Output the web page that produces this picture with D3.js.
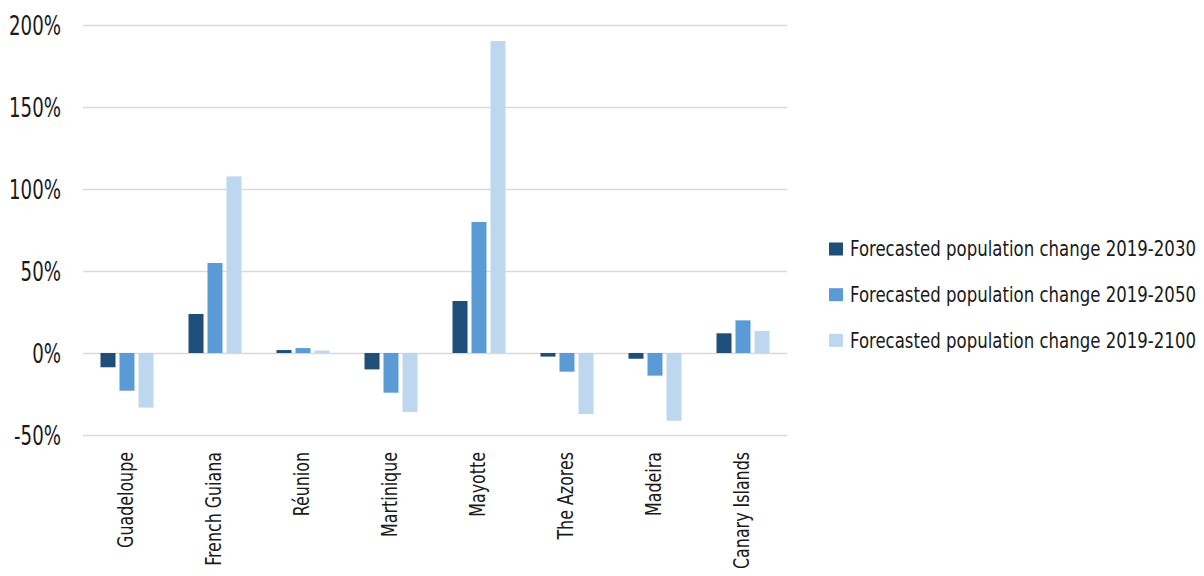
<!DOCTYPE html>
<html>
<head>
<meta charset="utf-8">
<script src="https://cdn.jsdelivr.net/npm/d3@7"></script>
<style>
  html, body { margin: 0; padding: 0; background: #fff; }
  svg { display: block; }
  text { font-family: "DejaVu Sans Condensed", "DejaVu Sans", sans-serif; fill: #1a1a1a; }
</style>
</head>
<body>
<svg id="chart" width="1204" height="576"></svg>
<script>
// Regions on the horizontal axis
const categories = ["Guadeloupe", "French Guiana", "Réunion", "Martinique", "Mayotte", "The Azores", "Madeira", "Canary Islands"];

// Series names (legend)
const seriesNames = [
  "Forecasted population change 2019-2030",
  "Forecasted population change 2019-2050",
  "Forecasted population change 2019-2100"
];

// Forecasted change in percent, one array per series
const change2030 = [-8.7, 23.8, 1.8, -10.0, 31.7, -2.2, -3.5, 12.0];
const change2050 = [-23.0, 54.9, 3.0, -24.2, 79.9, -11.4, -13.8, 19.9];
const change2100 = [-33.3, 107.7, 1.5, -36.0, 190.2, -37.2, -41.3, 13.4];

// Y axis ticks
const yTicks = [-50, 0, 50, 100, 150, 200];

const colors = ["#1F4E79", "#5B9BD5", "#BDD7EE"];
const seriesValues = [change2030, change2050, change2100];

const svg = d3.select("#chart");
const plot = { left: 83, right: 787, top: 25, bottom: 435 };

const y = d3.scaleLinear().domain([-50, 200]).range([plot.bottom, plot.top]);
const x0 = d3.scaleBand().domain(categories).range([plot.left, plot.right]).padding(0);
const x1 = d3.scaleBand().domain(d3.range(seriesNames.length))
  .range([(x0.bandwidth() - 53) / 2, (x0.bandwidth() + 53) / 2])
  .paddingInner(0.21).paddingOuter(0);

// Horizontal squeeze factor so a text of the given font size spans the wanted width
function squeeze(sample, size, wanted) {
  const t = svg.append("text").attr("font-size", size).text(sample);
  const w = t.node().getComputedTextLength();
  t.remove();
  return wanted / w;
}

// Gridlines and tick labels
const yAxis = d3.axisLeft(y).tickValues(yTicks).tickSize(-(plot.right - plot.left)).tickFormat(d => d + "%");
const gAxis = svg.append("g").attr("transform", `translate(${plot.left},0)`).call(yAxis);
gAxis.select(".domain").remove();
gAxis.selectAll(".tick line").attr("stroke", "#d9d9d9").attr("stroke-width", 1.5);
const tickSqueeze = squeeze("200%", 27, 52);
gAxis.selectAll(".tick text")
  .attr("x", 0)
  .attr("dy", "0.36em")
  .attr("font-size", 27)
  .attr("fill", "#1a1a1a")
  .attr("font-family", null)
  .attr("transform", `translate(-22,0) scale(${tickSqueeze},1)`);
gAxis.attr("font-family", null);

// Bars
const groups = svg.append("g").selectAll("g")
  .data(categories)
  .join("g")
  .attr("transform", d => `translate(${x0(d)},0)`);

groups.selectAll("rect")
  .data((d, i) => seriesValues.map((vals, s) => ({ s, v: vals[i] })))
  .join("rect")
  .attr("x", d => x1(d.s))
  .attr("width", x1.bandwidth())
  .attr("y", d => y(Math.max(0, d.v)))
  .attr("height", d => Math.abs(y(d.v) - y(0)))
  .attr("fill", d => colors[d.s]);

// Category labels, rotated
const catSqueeze = squeeze("Guadeloupe", 21, 96);
svg.append("g").selectAll("text")
  .data(categories)
  .join("text")
  .attr("transform", d => `translate(${x0(d) + x0.bandwidth() / 2 - 1},452) rotate(-90) scale(${catSqueeze},1)`)
  .attr("text-anchor", "end")
  .attr("dy", "0.35em")
  .attr("font-size", 21)
  .text(d => d);

// Legend
const legend = svg.append("g").attr("transform", "translate(829,249)");
const items = legend.selectAll("g")
  .data(seriesNames)
  .join("g")
  .attr("transform", (d, i) => `translate(0,${i * 45.7})`);
items.append("rect")
  .attr("x", 0).attr("y", -6.5)
  .attr("width", 14).attr("height", 13)
  .attr("fill", (d, i) => colors[i]);
const legSqueeze = squeeze(seriesNames[0], 21, 346);
items.append("text")
  .attr("transform", `translate(21,0) scale(${legSqueeze},1)`)
  .attr("dy", "0.35em")
  .attr("font-size", 21)
  .text(d => d);
</script>
</body>
</html>
